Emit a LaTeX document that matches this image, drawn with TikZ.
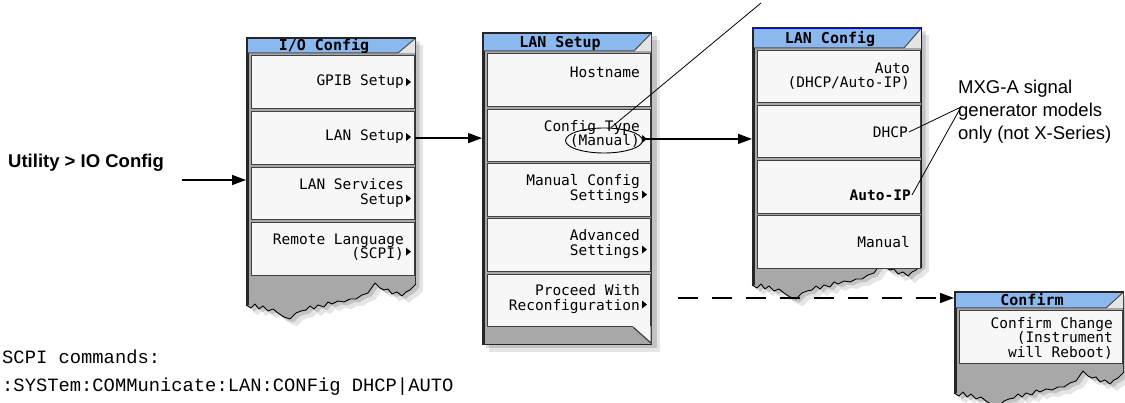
\documentclass[tikz,border=0pt]{standalone}
\usepackage{fontspec}
\setmainfont{Liberation Sans}
\newfontfamily\softfont{DejaVu Sans Mono}
\newfontfamily\codefont{Liberation Mono}
\usetikzlibrary{arrows.meta,shapes.geometric}

\definecolor{titleblue}{RGB}{140,184,240}
\definecolor{framegray}{RGB}{168,168,168}
\definecolor{btnfill}{RGB}{247,247,247}

\def\jagprof{-- ++(5,3) -- ++(4,-4) -- ++(4,5) -- ++(4,-3) -- ++(5,5) -- ++(5,-2) -- ++(5,4) -- ++(6,4) -- ++(6,2) -- ++(6,-6) -- ++(5,-2) -- ++(5,-1) -- ++(4,-4) -- ++(4,3) -- ++(4,-4) -- ++(6,2) -- ++(4,-5) -- ++(4,2) -- ++(6,-3) -- ++(6,1) -- ++(6,-3) -- ++(6,0) -- ++(6,-4) -- ++(6,-2) -- ++(7,-10) -- ++(5,5) -- ++(4,2) -- ++(4,-1) -- ++(4,5) -- ++(5,-2) -- ++(5,4) -- ++(4,-4) -- ++(4,-2) -- ++(6,-6)}

\newcommand\tornframe[3]{%
 \begin{scope}[shift={(#1,0)}]
  \fill[black,opacity=.10] (7,#2+7) -- (7,#3+7) \jagprof -- (177,#2+7) -- cycle;
  \fill[black,opacity=.15] (3.5,#2+3.5) -- (3.5,#3+3.5) \jagprof -- (173.5,#2+3.5) -- cycle;
  \fill[framegray] (0,#2) -- (0,#3) \jagprof -- (170,#2) -- cycle;
  \draw[black,line width=0.9pt,line join=round] (0,#3) \jagprof;
  \draw[black!85,line width=2.6pt] (1.3,#2) -- (1.3,#3);
  \draw[black!80,line width=1.2pt] (169.4,#2) -- (169.4,#3-21);
 \end{scope}}

\newcommand\titlebar[5]{%
 \fill[titleblue] (#1+2,#2) -- (#1+169,#2) -- (#1+152,#3) -- (#1+2,#3) -- cycle;
 \fill[gray!20] (#1+169,#2) -- (#1+169,#3) -- (#1+152,#3) -- cycle;
 \draw[black!70,line width=1pt] (#1+168.5,#2+1) -- (#1+152,#3) -- (#1+2,#3);
 \draw[black!85,line width=1.2pt] (#1,#2) -- (#1+170,#2);
 \node[titletxt] (#4) at ({#1+78},{(#2+#3)/2}) {#5};}

\newcommand\btn[4]{\node[btnbox, minimum height={#4-#3}] (#1) at (#2,#3) {};}
\newcommand\stri[1]{\fill[black] #1 ++(0,-4) -- ++(5,4) -- ++(-5,4) -- cycle;}

\begin{document}
\begin{tikzpicture}[x=1pt,y=-1pt,
  btnbox/.style={draw=black!75, line width=1.2pt, fill=btnfill, inner sep=0pt, minimum width=163pt, anchor=north west},
  titletxt/.style={font=\softfont\bfseries\fontsize{15}{15}\selectfont, inner sep=0pt, text height=10.5pt, text depth=0pt},
  lbl/.style={font=\softfont\fontsize{14.5}{14.5}\selectfont, inner sep=0pt, align=right, anchor=east},
  frm/.style={inner sep=0pt, minimum width=170pt, anchor=north west},
  arr/.style={line width=1.4pt, -{Triangle[length=14pt,width=10pt]}},
  lead/.style={line width=0.8pt}]
\useasboundingbox (0,0) rectangle (1125,403);
\clip (0,0) rectangle (1125,403);

% ---------- entry ----------
\node[font=\fontsize{18.5}{22}\selectfont\bfseries, anchor=west, inner sep=0pt] (util) at (8,163) {Utility > IO Config};

% ---------- I/O Config ----------
\tornframe{246}{38}{305}
\node[frm, minimum height=270pt] (m1) at (246,38) {};
\titlebar{246}{38}{53}{m1t}{I/O Config}
\btn{m1b1}{251}{55}{108}
\btn{m1b2}{251}{111}{164}
\btn{m1b3}{251}{167}{219}
\btn{m1b4}{251}{222}{275}
\node[lbl] (m1l1) at (404,82) {GPIB Setup};
\node[lbl] (m1l2) at (404,137) {LAN Setup};
\node[lbl] (m1l3) at (404,193) {LAN Services\\Setup};
\node[lbl] (m1l4) at (404,247) {Remote Language\\(SCPI)};
\stri{([shift={(2,0)}]m1l1.east)}
\stri{([shift={(2,0)}]m1l2.east)}
\stri{([shift={(2,-9)}]m1l3.south east)}
\stri{([shift={(2,-9)}]m1l4.south east)}

% ---------- LAN Setup ----------
\fill[black,opacity=.10] (489,40) rectangle (660,352);
\fill[black,opacity=.15] (485.5,36.5) rectangle (656.5,348.5);
\fill[framegray] (482,33) rectangle (652,345);
\draw[black!85,line width=2.6pt] (483.3,33) -- (483.3,345);
\draw[black!80,line width=1.2pt] (651.4,33) -- (651.4,345);
\draw[black!85,line width=1.4pt] (482,344.3) -- (652,344.3);
\node[frm, minimum height=312pt] (m2) at (482,33) {};
\titlebar{482}{33}{51}{m2t}{LAN Setup}
\btn{m2b1}{487}{53}{106}
\btn{m2b2}{487}{109}{161}
\btn{m2b3}{487}{163}{216}
\btn{m2b4}{487}{218}{271}
\btn{m2b5}{487}{274}{326}
\coordinate (pc) at (m2b5.south east);
\fill[btnfill] ([shift={(-18.5,-1)}]pc) -- ([shift={(0,-1)}]pc) -- ([shift={(0,16)}]pc) -- cycle;
\draw[black!75,line width=1.2pt] ([shift={(-18,0)}]pc) -- ([shift={(0,16)}]pc) -- ([shift={(0,-1)}]pc);
\node[lbl] (m2l1) at (640,72) {Hostname};
\node[lbl] (m2l2) at (640,134) {Config Type\\(Manual)};
\node[lbl] (m2l3) at (640,189) {Manual Config\\Settings};
\node[lbl] (m2l4) at (640,244) {Advanced\\Settings};
\node[lbl] (m2l5) at (640,299) {Proceed With\\Reconfiguration};
\stri{([shift={(2,-9)}]m2l2.south east)}
\stri{([shift={(2,-9)}]m2l3.south east)}
\stri{([shift={(2,-9)}]m2l4.south east)}
\stri{([shift={(2,-9)}]m2l5.south east)}
\node[draw, ellipse, line width=0.9pt, minimum width=77pt, minimum height=25pt, inner sep=0pt] (ell) at (604,140.5) {};

% ---------- LAN Config ----------
\tornframe{752}{28}{285}
\node[frm, minimum height=260pt] (m3) at (752,28) {};
\titlebar{752}{28}{48}{m3t}{LAN Config}
\btn{m3b1}{757}{50}{102}
\btn{m3b2}{757}{105}{157}
\btn{m3b3}{757}{160}{213}
\btn{m3b4}{757}{215}{268}
\draw[blue,line width=1.2pt] (752,28.6) -- (921.4,28.6) -- (921.4,268);
\node[lbl] (m3l1) at (910,76) {Auto\\(DHCP/Auto-IP)};
\node[lbl] (m3l2) at (908,132) {DHCP};
\node[lbl, font=\softfont\bfseries\fontsize{14.5}{14.5}\selectfont] (m3l3) at (911,195) {Auto-IP};
\node[lbl] (m3l4) at (910,242) {Manual};

% ---------- Confirm ----------
\tornframe{954}{292}{393}
\node[frm, minimum height=111pt] (cf) at (954,292) {};
\titlebar{954}{292}{308}{cft}{Confirm}
\btn{cfb1}{959}{310}{363}
\node[lbl] (cfl1) at (1113,338) {Confirm Change\\(Instrument\\will Reboot)};

% ---------- notes ----------
\node[font=\fontsize{18.5}{23}\selectfont, anchor=north west, align=left, inner sep=0pt] (mxg) at (958,80) {MXG-A signal\\generator models\\only (not X-Series)};
\coordinate (mxgpt) at (961,107);
\draw[lead] (mxgpt) -- ([shift={(1,0)}]m3l2.east);
\draw[lead] (mxgpt) -- ([shift={(1,0)}]m3l3.east);
\coordinate (leadtop) at (761,3);
\draw[lead] (ell.62) -- (leadtop);

\node[font=\codefont\fontsize{18.8}{28}\selectfont, anchor=north west, align=left, inner sep=0pt] (scpi) at (2,350) {SCPI commands:\\:SYSTem:COMMunicate:LAN:CONFig DHCP|AUTO};

% ---------- connectors ----------
\coordinate (in) at (182,180);
\draw[arr] (in) -- (in -| m1.west);
\draw[arr] (m1b2.east) -- (m1b2.east -| m2.west);
\coordinate (ct) at ([shift={(4,-9)}]m2l2.south east);
\draw[arr] (ct) -- (ct -| m3.west);
\coordinate (dst) at (678,298);
\draw[arr, dash pattern=on 20pt off 14pt] (dst) -- (dst -| cf.west);
\end{tikzpicture}
\end{document}
